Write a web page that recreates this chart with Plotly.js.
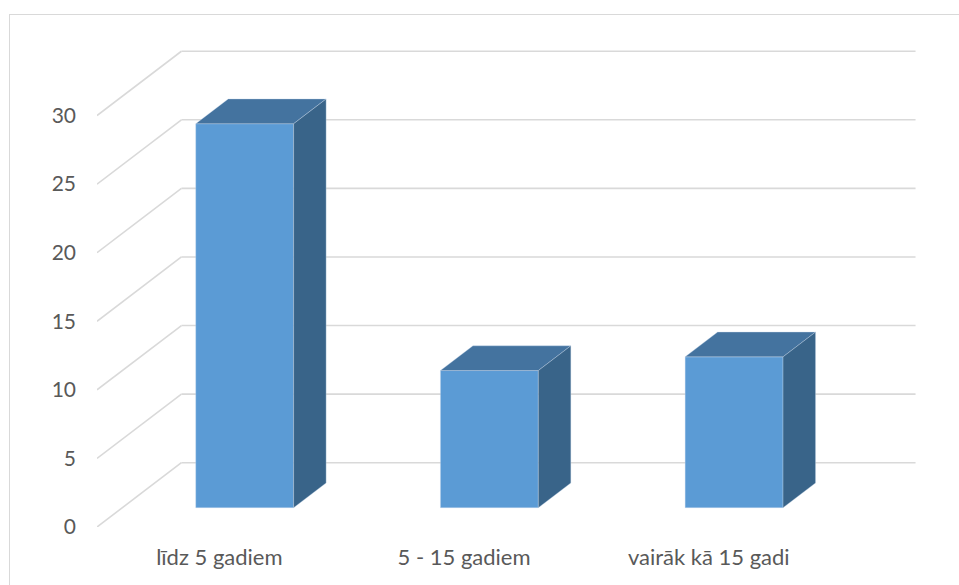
<!DOCTYPE html>
<html>
<head>
<meta charset="utf-8">
<script src="https://cdn.plot.ly/plotly-3.0.1.min.js"></script>
<style>
  html, body { margin: 0; padding: 0; background: #ffffff; overflow: hidden; }
  #chart { width: 959px; height: 585px; position: relative; }
  #frame { position: absolute; left: 9px; top: 14px; width: 1200px; height: 1200px;
           border: 1.5px solid #d9d9d9; pointer-events: none; }
</style>
</head>
<body>
<div id="chart"></div>
<div id="frame"></div>
<script>
// ---- data ----
const categories = ["līdz 5 gadiem", "5 - 15 gadiem", "vairāk kā 15 gadi"];
const values = [28, 10, 11];
const yTicks = [0, 5, 10, 15, 20, 25, 30];

// ---- oblique 3D projection parameters (in axis units) ----
const DX = 0.345;   // full depth shift along category axis
const DY = 4.69;    // full depth shift along value axis
const F0 = 0.30;    // bar front depth fraction
const F1 = 0.685;   // bar back depth fraction
const BW = 0.40;    // bar width (category units)
const XMIN = -0.5, XMAX = categories.length - 0.5;

const gridColor = "#d9d9d9";
const edge = { color: "rgba(200,215,235,0.45)", width: 0.8 };
const traces = [];

// back wall gridlines
const gx = [], gy = [];
yTicks.forEach(v => { gx.push(XMIN + DX, XMAX + DX, null); gy.push(v + DY, v + DY, null); });
traces.push({ type: "scatter", mode: "lines", x: gx, y: gy,
  line: { color: gridColor, width: 1.6 }, hoverinfo: "skip" });

// side wall diagonals
const sx = [], sy = [];
yTicks.forEach(v => { sx.push(XMIN, XMIN + DX, null); sy.push(v, v + DY, null); });
traces.push({ type: "scatter", mode: "lines", x: sx, y: sy,
  line: { color: gridColor, width: 1.6 }, hoverinfo: "skip" });

// front faces
const fx = [], fy = [];
values.forEach((v, i) => {
  const xl = i - BW / 2 + F0 * DX, xr = i + BW / 2 + F0 * DX;
  fx.push(xl, xr, xr, xl, xl, null);
  fy.push(F0 * DY, F0 * DY, v + F0 * DY, v + F0 * DY, F0 * DY, null);
});
traces.push({ type: "scatter", mode: "lines", x: fx, y: fy, fill: "toself",
  fillcolor: "#5b9bd5", line: edge, hoverinfo: "skip" });

// top faces
const tx = [], ty = [];
values.forEach((v, i) => {
  const xl = i - BW / 2, xr = i + BW / 2;
  tx.push(xl + F0 * DX, xr + F0 * DX, xr + F1 * DX, xl + F1 * DX, xl + F0 * DX, null);
  ty.push(v + F0 * DY, v + F0 * DY, v + F1 * DY, v + F1 * DY, v + F0 * DY, null);
});
traces.push({ type: "scatter", mode: "lines", x: tx, y: ty, fill: "toself",
  fillcolor: "#44739f", line: edge, hoverinfo: "skip" });

// side faces
const rx = [], ry = [];
values.forEach((v, i) => {
  const xr = i + BW / 2;
  rx.push(xr + F0 * DX, xr + F1 * DX, xr + F1 * DX, xr + F0 * DX, xr + F0 * DX, null);
  ry.push(F0 * DY, F1 * DY, v + F1 * DY, v + F0 * DY, F0 * DY, null);
});
traces.push({ type: "scatter", mode: "lines", x: rx, y: ry, fill: "toself",
  fillcolor: "#396489", line: edge, hoverinfo: "skip" });

const xfont = { family: "Lato, 'Open Sans', sans-serif", size: 22, color: "#595959" };
const yfont = { family: "Lato, 'Open Sans', sans-serif", size: 21, color: "#595959" };

const layout = {
  width: 959, height: 585,
  margin: { l: 97, r: 30, t: 47, b: 58 },
  paper_bgcolor: "#ffffff", plot_bgcolor: "#ffffff",
  showlegend: false,
  font: yfont,
  xaxis: { range: [XMIN, XMAX + 0.4], showgrid: false, zeroline: false, showline: false,
    tickmode: "array", tickvals: categories.map((c, i) => i), ticktext: categories,
    ticks: "", ticklabelstandoff: 15, tickfont: xfont, fixedrange: true },
  yaxis: { range: [0, 35], showgrid: false, zeroline: false, showline: false,
    tickmode: "array", tickvals: yTicks, ticks: "", ticklabelstandoff: 20,
    tickfont: yfont, fixedrange: true }
};

Plotly.newPlot("chart", traces, layout, { displayModeBar: false, staticPlot: true });
</script>
</body>
</html>
